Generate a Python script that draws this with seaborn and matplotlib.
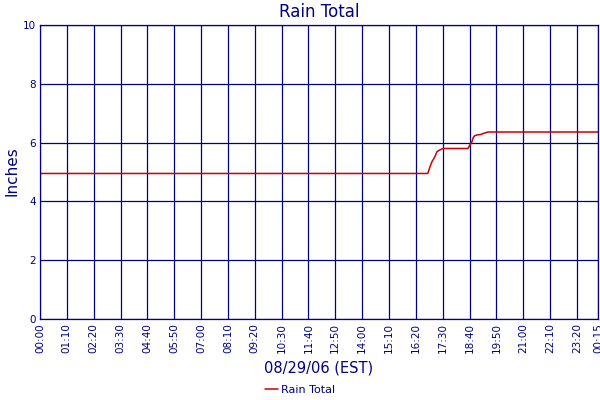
import matplotlib
matplotlib.use("Agg")
import matplotlib.pyplot as plt
import seaborn as sns
import numpy as np
import pandas as pd

# rain total readings (minutes since 00:00, inches)
minutes = [0, 1011, 1017, 1022, 1029, 1035, 1041, 1046, 1051, 1116, 1121,
           1126, 1130, 1134, 1140, 1150, 1158, 1168, 1455]
inches = [4.95, 4.95, 5.18, 5.35, 5.50, 5.69, 5.74, 5.77, 5.80, 5.80, 5.92,
          6.02, 6.18, 6.24, 6.26, 6.28, 6.32, 6.36, 6.36]

tick_minutes = list(range(0, 1401, 70)) + [1455]
tick_labels = ["00:00", "01:10", "02:20", "03:30", "04:40", "05:50", "07:00",
               "08:10", "09:20", "10:30", "11:40", "12:50", "14:00", "15:10",
               "16:20", "17:30", "18:40", "19:50", "21:00", "22:10", "23:20",
               "00:15"]

df = pd.DataFrame({"minute": minutes, "inches": inches})

navy = "#000080"
sns.set_style("white")
plt.rcParams["font.family"] = ["DejaVu Sans"]

fig = plt.figure(figsize=(6, 4), dpi=100)
ax = fig.add_axes([40 / 600, 1 - 319 / 400, 558 / 600, 294 / 400])

sns.lineplot(data=df, x="minute", y="inches", ax=ax, color="#CC0000",
             linewidth=1.1, label="Rain Total", legend=False)

ax.set_xlim(0, 1455)
ax.set_ylim(0, 10)
ax.set_xticks(tick_minutes)
ax.set_xticklabels(tick_labels, rotation=90)
ax.set_yticks([0, 2, 4, 6, 8, 10])
ax.tick_params(axis="both", length=0, colors=navy, labelsize=7.5, pad=3)
ax.grid(True, color=navy, linewidth=0.9)
ax.set_axisbelow(True)
for s in ax.spines.values():
    s.set_color(navy)
    s.set_linewidth(0.9)

ax.set_title("Rain Total", color=navy, fontsize=12, pad=6)
ax.set_xlabel("08/29/06 (EST)", color=navy, fontsize=10.5, labelpad=5)
ax.set_ylabel("")
fig.text(12 / 600, 1 - 171 / 400, "Inches", color=navy, fontsize=11,
         rotation=90, ha="center", va="center")

leg = fig.legend(loc="lower center", bbox_to_anchor=(0.5, -0.012), frameon=False,
                 fontsize=8, handlelength=1.2, handletextpad=0.3)
for t in leg.get_texts():
    t.set_color(navy)

fig.savefig("out.png", dpi=100)
